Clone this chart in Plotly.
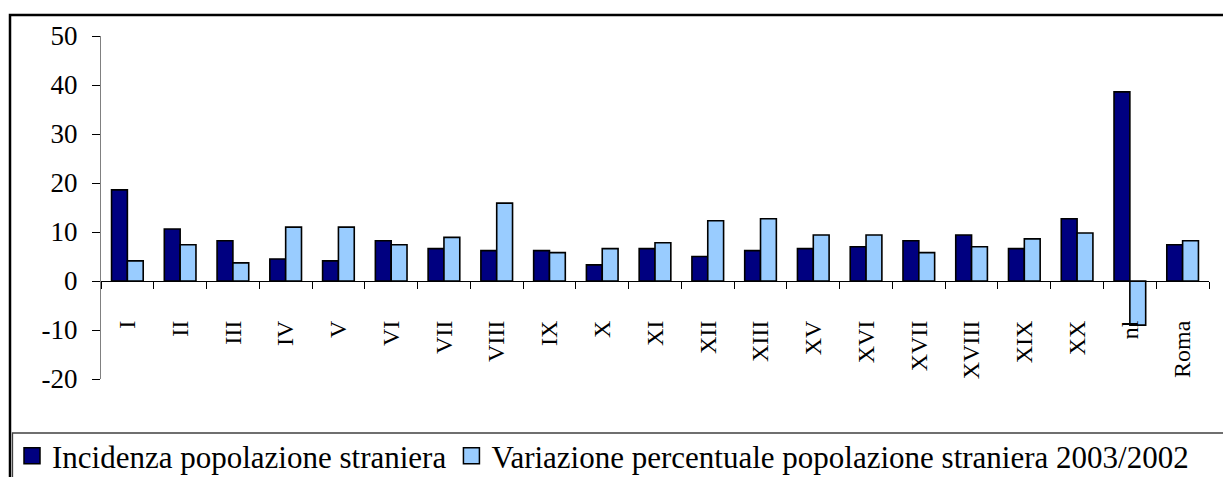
import plotly.graph_objects as go

# ---- data ----
categories = ["I", "II", "III", "IV", "V", "VI", "VII", "VIII", "IX", "X", "XI",
              "XII", "XIII", "XV", "XVI", "XVII", "XVIII", "XIX", "XX", "nl", "Roma"]
incidenza = [18.6, 10.6, 8.2, 4.5, 4.1, 8.2, 6.6, 6.2, 6.2, 3.3, 6.6,
             5.0, 6.2, 6.6, 7.0, 8.2, 9.4, 6.6, 12.7, 38.6, 7.4]
variazione = [4.1, 7.4, 3.7, 11.0, 11.0, 7.4, 8.9, 15.9, 5.8, 6.6, 7.8,
              12.3, 12.7, 9.4, 9.4, 5.8, 7.0, 8.6, 9.8, -9.0, 8.2]
series_names = ["Incidenza popolazione straniera",
                "Variazione percentuale popolazione straniera 2003/2002"]
series_colors = ["#000080", "#99CCFF"]
y_tickvals = [-20, -10, 0, 10, 20, 30, 40, 50]
y_ticktext = ["-20", "-10", "0", "10", "20", "30", "40", "50"]
y_range = [-20, 50]

# ---- geometry ----
W, H = 1223, 477
L, R, T, B = 101, 14, 36, 98
PW, PH = W - L - R, H - T - B


def px_x(x):
    return (x - L) / PW


def px_y(y):
    return (H - B - y) / PH


FONT = "Liberation Serif, Times New Roman, serif"

fig = go.Figure()
for name, vals, col in zip(series_names, [incidenza, variazione], series_colors):
    fig.add_bar(x=categories, y=vals, name=name, showlegend=False,
                legendgroup=name,
                marker=dict(color=col, line=dict(color="black", width=1.6)))
# legend entries with larger square swatches
for name, col in zip(series_names, series_colors):
    fig.add_scatter(x=[None], y=[None], mode="markers", name=name,
                    legendgroup=name,
                    marker=dict(symbol="square", size=16, color=col,
                                line=dict(color="black", width=1.5)))

zero_pos = (0 - y_range[0]) / (y_range[1] - y_range[0])

fig.update_layout(
    width=W, height=H,
    margin=dict(l=L, r=R, t=T, b=B, autoexpand=False),
    paper_bgcolor="white", plot_bgcolor="white",
    barmode="group", bargap=0.4, bargroupgap=0,
    font=dict(family=FONT, color="black"),
    showlegend=True,
    legend=dict(orientation="h", x=px_x(12), xanchor="left",
                y=px_y(456), yanchor="middle", itemsizing="trace",
                font=dict(family=FONT, size=31, color="black"),
                bgcolor="rgba(0,0,0,0)", borderwidth=0, traceorder="normal"),
    xaxis=dict(type="category", anchor="free", position=zero_pos,
               showline=True, linecolor="black", linewidth=1.2,
               ticks="outside", tickson="boundaries", ticklen=7,
               tickcolor="black", tickwidth=1,
               tickangle=-90, ticklabelstandoff=29,
               tickfont=dict(family=FONT, size=24, color="black"),
               showgrid=False, zeroline=False),
    yaxis=dict(range=y_range, tickmode="array",
               tickvals=y_tickvals, ticktext=y_ticktext,
               showline=True, linecolor="#808080", linewidth=1,
               ticks="outside", ticklen=8, tickcolor="black", tickwidth=1,
               ticklabelstandoff=9,
               tickfont=dict(family=FONT, size=27, color="black"),
               showgrid=False, zeroline=False),
    shapes=[
        # outer chart frame
        dict(type="rect", xref="paper", yref="paper",
             x0=px_x(10), x1=px_x(1260), y0=px_y(520), y1=px_y(15),
             line=dict(color="black", width=2.5), fillcolor="rgba(0,0,0,0)"),
        # legend box
        dict(type="rect", xref="paper", yref="paper",
             x0=px_x(12.5), x1=px_x(1260), y0=px_y(520), y1=px_y(433),
             line=dict(color="#404040", width=1.3), fillcolor="rgba(0,0,0,0)"),
    ],
)

fig.write_html("out.html", config={"displayModeBar": False},
               post_script="document.body.style.margin='0';document.body.style.overflow='hidden';")
